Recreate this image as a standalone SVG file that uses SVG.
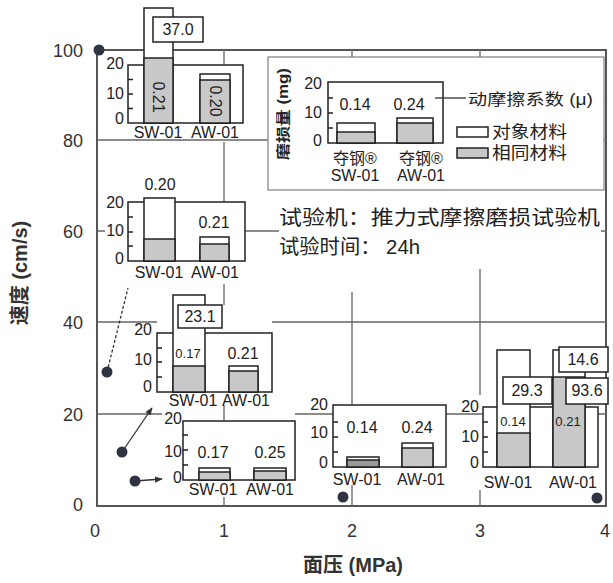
<svg xmlns="http://www.w3.org/2000/svg" width="613" height="583" viewBox="0 0 613 583">
<style>
text{font-family:"Liberation Sans","Noto Sans CJK SC",sans-serif;fill:#222}
.ax{font-size:18px;fill:#333}
.tt{font-size:20px;font-weight:bold;fill:#333}
.t{font-size:16px}
.ts{font-size:13px}
.m{text-anchor:middle}
.r{text-anchor:end}
.fr{fill:none;stroke:#444;stroke-width:1.8}
.g{stroke:#666;stroke-width:1.3;fill:none}
.bx{fill:#fff;stroke:#222;stroke-width:1.5}
.w{fill:#fff;stroke:#222;stroke-width:1.5}
.gy{fill:#c8c8c8;stroke:#222;stroke-width:1.5}
.dk{fill:#9a9a9a;stroke:#222;stroke-width:1.5}
.tk{stroke:#222;stroke-width:1.3}
.pt{fill:#2f3442}
.ld{stroke:#333;stroke-width:1.3;fill:none}
</style>
<defs>
<marker id="ah" viewBox="0 0 10 10" refX="9" refY="5" markerWidth="6" markerHeight="6" orient="auto"><path d="M0,1 L10,5 L0,9 z" fill="#333"/></marker>
</defs>
<rect width="613" height="583" fill="#fff"/>
<g id="axes">
<rect class="fr" x="97" y="50" width="509" height="456"/>
<g class="g">
<path d="M97,140H268M604,140H607"/>
<path d="M97,231H105M245,231H279M601,231H607"/>
<path d="M97,322H157M272,322H607"/>
<path d="M97,414H162M295,414H333M446,414H483M598,414H607"/>
<path d="M224,50V65M224,142V202M224,284V305M224,405V421M224,497V506"/>
<path d="M352,50V57M352,292V405M352,485V506"/>
<path d="M480,50V57M480,269V395M480,490V506"/>
</g>
<text class="ax r" x="83" y="57">100</text>
<text class="ax r" x="83" y="147">80</text>
<text class="ax r" x="83" y="238">60</text>
<text class="ax r" x="83" y="329">40</text>
<text class="ax r" x="83" y="421">20</text>
<text class="ax r" x="83" y="511">0</text>
<text class="ax m" x="95" y="537">0</text>
<text class="ax m" x="224" y="537">1</text>
<text class="ax m" x="352" y="537">2</text>
<text class="ax m" x="480" y="537">3</text>
<text class="ax m" x="605" y="537">4</text>
<text class="tt m" x="353" y="572">面压 (MPa)</text>
<text class="tt m" transform="translate(27,273) rotate(-90)">速度 (cm/s)</text>
</g>
<g id="points">
<circle class="pt" cx="99" cy="50" r="5.5"/>
<circle class="pt" cx="107" cy="372" r="5.5"/>
<circle class="pt" cx="122" cy="452" r="5.5"/>
<circle class="pt" cx="135" cy="481" r="5.5"/>
<circle class="pt" cx="343" cy="497" r="5.5"/>
<circle class="pt" cx="597" cy="498" r="5.5"/>
</g>
<g id="legend">
<rect x="268" y="57" width="336" height="133" fill="#fff" stroke="#888" stroke-width="1.3"/>
<text font-size="14" font-weight="bold" text-anchor="middle" transform="translate(288,114) rotate(-90)" textLength="92" lengthAdjust="spacingAndGlyphs">磨损量 (mg)</text>
<text class="t r" x="322" y="89">20</text>
<text class="t r" x="322" y="118">10</text>
<text class="t r" x="322" y="146">0</text>
<rect class="bx" x="328" y="82" width="115" height="61"/>
<path class="tk" d="M328,98h5M328,113h5M328,128h5"/>
<rect class="w" x="337" y="123" width="38" height="20"/>
<rect class="gy" x="337" y="132" width="38" height="11"/>
<rect class="w" x="397" y="118" width="36" height="25"/>
<rect class="gy" x="397" y="123" width="36" height="20"/>
<text class="t m" x="355" y="110">0.14</text>
<text class="t m" x="409" y="110">0.24</text>
<path class="ld" d="M435,98H466"/>
<text font-size="16" x="468" y="105" textLength="125" lengthAdjust="spacingAndGlyphs">动摩擦系数 (μ)</text>
<rect class="w" x="457" y="127" width="31" height="10"/>
<rect class="gy" x="457" y="148" width="31" height="10"/>
<text font-size="17" x="492" y="138" textLength="75" lengthAdjust="spacingAndGlyphs">对象材料</text>
<text font-size="17" x="492" y="159" textLength="75" lengthAdjust="spacingAndGlyphs">相同材料</text>
<text class="t m" x="355" y="164">夺钢®</text>
<text class="t m" x="421" y="164">夺钢®</text>
<text class="t m" x="355" y="181">SW-01</text>
<text class="t m" x="421" y="181">AW-01</text>
</g>
<g id="note">
<text font-size="20" x="279" y="225" textLength="321" lengthAdjust="spacingAndGlyphs">试验机：推力式摩擦磨损试验机</text>
<text font-size="20" x="279" y="254" textLength="141" lengthAdjust="spacingAndGlyphs">试验时间： 24h</text>
</g>
<g id="inset1">
<text class="t r" x="124" y="69">20</text>
<text class="t r" x="124" y="99">10</text>
<text class="t r" x="124" y="124">0</text>
<rect class="bx" x="128" y="65" width="115" height="58"/>
<path class="tk" d="M128,79.5h5M128,94h5M128,108.5h5"/>
<rect class="w" x="144" y="8" width="29" height="115"/>
<rect class="gy" x="144" y="58" width="29" height="65"/>
<rect class="bx" x="153" y="17" width="50" height="25"/>
<text class="t m" x="178" y="35">37.0</text>
<text class="t m" transform="translate(158,97) rotate(90)" y="5">0.21</text>
<rect class="w" x="200" y="74" width="30" height="49"/>
<rect class="gy" x="200" y="80" width="30" height="43"/>
<text class="t m" transform="translate(215,101) rotate(90)" y="5">0.20</text>
<text class="t m" x="158" y="138">SW-01</text>
<text class="t m" x="215" y="138">AW-01</text>
</g>
<g id="inset2">
<text class="t r" x="124" y="208">20</text>
<text class="t r" x="124" y="236">10</text>
<text class="t r" x="124" y="264">0</text>
<rect class="bx" x="128" y="202" width="117" height="59"/>
<path class="tk" d="M128,217h5M128,232h5M128,246h5"/>
<rect class="w" x="144" y="198" width="31" height="63"/>
<rect class="gy" x="144" y="239" width="31" height="22"/>
<text class="t m" x="160" y="190">0.20</text>
<rect class="w" x="200" y="237" width="29" height="24"/>
<rect class="gy" x="200" y="244" width="29" height="17"/>
<text class="t m" x="214" y="228">0.21</text>
<text class="t m" x="159" y="278">SW-01</text>
<text class="t m" x="215" y="278">AW-01</text>
</g>
<g id="inset3">
<text class="t r" x="152" y="335">20</text>
<text class="t r" x="152" y="365">10</text>
<text class="t r" x="152" y="392">0</text>
<rect class="bx" x="157" y="333" width="115" height="59"/>
<path class="tk" d="M157,348h5M157,362h5M157,377h5"/>
<rect class="w" x="173" y="295" width="32" height="97"/>
<rect class="gy" x="173" y="366" width="32" height="26"/>
<rect class="bx" x="178" y="305" width="44" height="23"/>
<text class="t m" x="200" y="322">23.1</text>
<text class="ts m" x="188" y="358">0.17</text>
<rect class="w" x="229" y="366" width="29" height="26"/>
<rect class="gy" x="229" y="371" width="29" height="21"/>
<text class="t m" x="243" y="359">0.21</text>
<text class="t m" x="193" y="406">SW-01</text>
<text class="t m" x="246" y="406">AW-01</text>
</g>
<g id="inset4">
<text class="t r" x="182" y="424">20</text>
<text class="t r" x="182" y="457">10</text>
<text class="t r" x="182" y="483">0</text>
<rect class="bx" x="183" y="421" width="112" height="59"/>
<path class="tk" d="M183,435h5M183,450h5M183,465h5"/>
<rect class="w" x="199" y="468" width="31" height="12"/>
<rect class="gy" x="199" y="472" width="31" height="8"/>
<rect class="w" x="254" y="468" width="32" height="12"/>
<rect class="gy" x="254" y="471" width="32" height="9"/>
<text class="t m" x="213" y="458">0.17</text>
<text class="t m" x="270" y="458">0.25</text>
<text class="t m" x="213" y="495">SW-01</text>
<text class="t m" x="270" y="495">AW-01</text>
</g>
<g id="inset5">
<text class="t r" x="328" y="410">20</text>
<text class="t r" x="328" y="438">10</text>
<text class="t r" x="328" y="468">0</text>
<rect class="bx" x="333" y="405" width="113" height="62"/>
<path class="tk" d="M333,422h5M333,437h5M333,452h5"/>
<rect class="w" x="347" y="457" width="32" height="10"/>
<rect class="dk" x="347" y="460" width="32" height="7"/>
<rect class="w" x="402" y="443" width="31" height="24"/>
<rect class="gy" x="402" y="448" width="31" height="19"/>
<text class="t m" x="362" y="433">0.14</text>
<text class="t m" x="417" y="433">0.24</text>
<text class="t m" x="357" y="485">SW-01</text>
<text class="t m" x="421" y="485">AW-01</text>
</g>
<g id="inset6">
<text class="t r" x="479" y="412">20</text>
<text class="t r" x="479" y="442">10</text>
<text class="t r" x="479" y="468">0</text>
<rect class="bx" x="483" y="407" width="115" height="60"/>
<path class="tk" d="M483,422h5M483,437h5M483,452h5"/>
<rect class="w" x="497" y="350" width="33" height="117"/>
<rect class="gy" x="497" y="433" width="33" height="34"/>
<rect class="w" x="553" y="350" width="32" height="117"/>
<rect class="gy" x="553" y="377" width="32" height="90"/>
<rect class="bx" x="503" y="377" width="49" height="27"/>
<text class="t m" x="527" y="396">29.3</text>
<rect class="bx" x="559" y="347" width="49" height="25"/>
<text class="t m" x="583" y="365">14.6</text>
<rect class="bx" x="566" y="378" width="42" height="26"/>
<text class="t m" x="587" y="396">93.6</text>
<text class="ts m" x="513" y="426">0.14</text>
<text class="ts m" x="568" y="426">0.21</text>
<text class="t m" x="508" y="488">SW-01</text>
<text class="t m" x="573" y="488">AW-01</text>
</g>
<g id="connectors">
<path class="ld" d="M107,372L128,288" stroke-dasharray="3,2"/>
<path class="ld" d="M122,452L152,408" marker-end="url(#ah)"/>
<path class="ld" d="M135,481L162,479" marker-end="url(#ah)"/>
</g>
</svg>
